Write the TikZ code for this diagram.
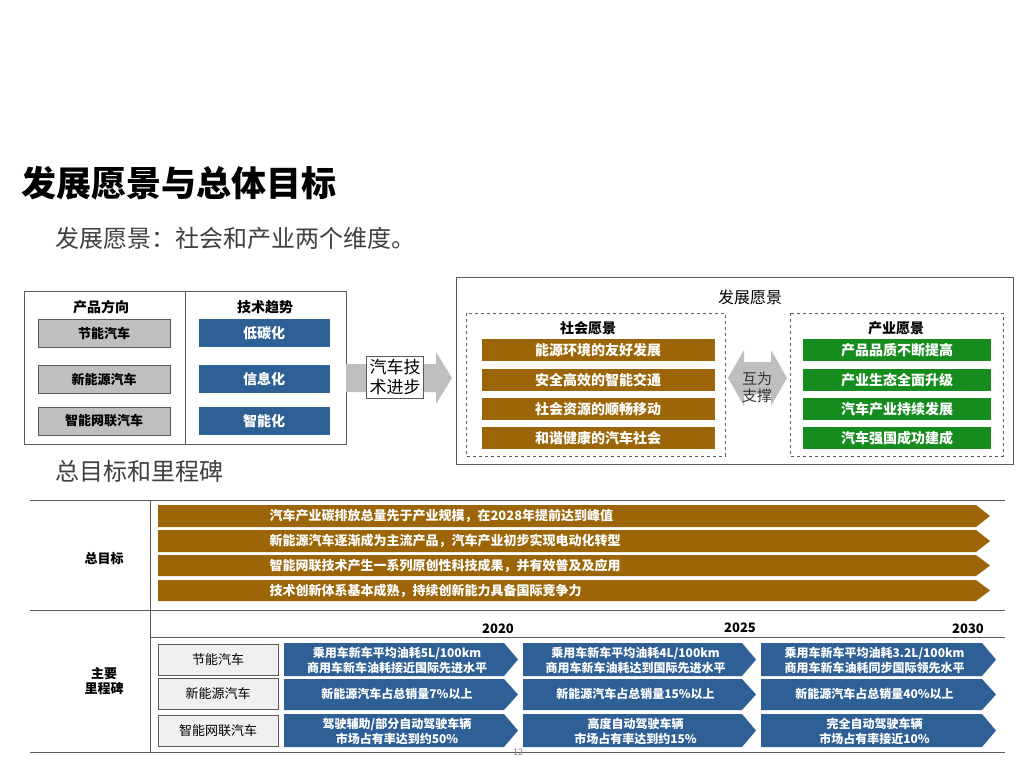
\documentclass[tikz,border=0pt]{standalone}
\usepackage{fontspec}
\setmainfont{Noto Sans CJK SC}
\usetikzlibrary{positioning}
\definecolor{ochre}{RGB}{156, 102, 8}
\definecolor{navy}{RGB}{46, 95, 149}
\definecolor{leaf}{RGB}{22, 140, 30}
\definecolor{ash}{RGB}{191, 191, 191}
\definecolor{frame}{RGB}{90, 90, 90}
% chevron: x1, y1, x2, y2, colour
\newcommand{\chev}[5]{
  \fill[#5] (#1, #2) -- ({#3-14}, #2) -- (#3, {(#2+#4)/2}) -- ({#3-14}, #4) -- (#1, #4) -- cycle;
}

\begin{document}
\begin{tikzpicture}[x=1pt, y=-1pt,
  lbl/.style={font=\fontsize{13}{15}\selectfont\bfseries},
  gbox/.style={fill=ash, draw=frame, minimum width=132, minimum height=28, font=\fontsize{13}{15}\selectfont\bfseries},
  bbox/.style={fill=navy, text=white, minimum width=131, minimum height=28, font=\fontsize{14}{16}\selectfont\bfseries},
  bar/.style={text=white, font=\fontsize{13}{15}\selectfont\bfseries},
  row/.style={fill=black!6, draw=frame, minimum width=120, minimum height=31, font=\fontsize{13}{15}\selectfont}]
  \useasboundingbox[fill=white] (0, 0) rectangle (1024, 768);

  \node[anchor=west, font=\fontsize{35}{38}\selectfont\bfseries] (title) at (18, 183) {发展愿景与总体目标};
  \node[anchor=west, text=black!75, font=\fontsize{24}{27}\selectfont] (sub) at (52, 238) {发展愿景：社会和产业两个维度。};

  % left block
  \draw[frame] (24, 291) rectangle (346, 444);
  \draw[frame] (185, 291) -- (185, 444);
  \node[lbl, font=\fontsize{14}{16}\selectfont\bfseries] (prod) at (101, 307) {产品方向};
  \node[lbl, font=\fontsize{14}{16}\selectfont\bfseries] (tech) at (265, 307) {技术趋势};
  \node[gbox] (p1) at (104, 333) {节能汽车};
  \node[gbox] (p2) at (104, 379) {新能源汽车};
  \node[gbox] (p3) at (104, 421) {智能网联汽车};
  \node[bbox] (t1) at (264, 333) {低碳化};
  \node[bbox] (t2) at (264, 379) {信息化};
  \node[bbox] (t3) at (264, 421) {智能化};

  \fill[ash] (346, 364) -- (436, 364) -- (436, 352) -- (452, 378) -- (436, 404) -- (436, 392) -- (346, 392) -- cycle;
  \node[fill=white, draw=frame, align=center, inner sep=3, font=\fontsize{17}{20}\selectfont] (progress) at (395, 377) {汽车技\\术进步};

  % vision block
  \draw[frame] (456, 277) rectangle (1013, 464);
  \node[font=\fontsize{16}{18}\selectfont] (vision) at (750, 297) {发展愿景};
  \draw[frame, dashed] (466, 313) rectangle (725, 456);
  \draw[frame, dashed] (790, 313) rectangle (1003, 456);
  \node[lbl, font=\fontsize{14}{16}\selectfont\bfseries] (soc) at (588, 328) {社会愿景};
  \node[lbl, font=\fontsize{14}{16}\selectfont\bfseries] (ind) at (896, 328) {产业愿景};
  \foreach \y/\s/\i in {350/能源环境的友好发展/产品品质不断提高, 380/安全高效的智能交通/产业生态全面升级,
                        409/社会资源的顺畅移动/汽车产业持续发展, 438/和谐健康的汽车社会/汽车强国成功建成} {
    \node[fill=ochre, bar, font=\fontsize{14}{16}\selectfont\bfseries, minimum width=233, minimum height=22] at (598, \y) {\s};
    \node[fill=leaf, bar, font=\fontsize{14}{16}\selectfont\bfseries, minimum width=188, minimum height=22] at (897, \y) {\i};
  }
  \fill[ash] (728, 378) -- (744, 350) -- (744, 362) -- (771, 362) -- (771, 350) -- (787, 378)
    -- (771, 406) -- (771, 394) -- (744, 394) -- (744, 406) -- cycle;
  \node[align=center, text=black!80, font=\fontsize{15}{17}\selectfont] (mutual) at (757, 387) {互为\\支撑};

  % goals and milestones
  \node[anchor=west, text=black!75, font=\fontsize{24}{27}\selectfont] (goals) at (52, 471) {总目标和里程碑};
  \draw[frame, thick] (30, 500) -- (1005, 500);
  \draw[frame] (30, 610) -- (1005, 610);
  \draw[frame, thick] (30, 752) -- (1005, 752);
  \draw[frame] (150, 500) -- (150, 752);
  \draw[frame] (150, 637) -- (1005, 637);
  \node[lbl] (goal) at (104, 559) {总目标};
  \node[lbl, align=center] (mile) at (104, 681) {主要\\里程碑};

  \foreach \a/\b/\t in {505/527/汽车产业碳排放总量先于产业规模，在2028年提前达到峰值,
                        530/552/新能源汽车逐渐成为主流产品，汽车产业初步实现电动化转型,
                        555/576/智能网联技术产生一系列原创性科技成果，并有效普及及应用,
                        580/601/技术创新体系基本成熟，持续创新能力具备国际竞争力} {
    \chev{158}{\a}{990}{\b}{ochre}
    \node[bar, anchor=west] at (266, {(\a+\b)/2}) {\t};
  }

  \node[lbl] (y1) at (498, 629) {2020};
  \node[lbl] (y2) at (740, 628) {2025};
  \node[lbl] (y3) at (968, 629) {2030};

  \node[row] (r1) at (218, 660) {节能汽车};
  \node[row] (r2) at (218, 694) {新能源汽车};
  \node[row] (r3) at (218, 731) {智能网联汽车};

  \foreach \xa/\xb/\ta/\tb/\tc in {
      284/518/{乘用车新车平均油耗5L/100km\\商用车新车油耗接近国际先进水平}/{新能源汽车占总销量7\%以上}/{驾驶辅助/部分自动驾驶车辆\\市场占有率达到约50\%},
      523/756/{乘用车新车平均油耗4L/100km\\商用车新车油耗达到国际先进水平}/{新能源汽车占总销量15\%以上}/{高度自动驾驶车辆\\市场占有率达到约15\%},
      761/996/{乘用车新车平均油耗3.2L/100km\\商用车新车油耗同步国际领先水平}/{新能源汽车占总销量40\%以上}/{完全自动驾驶车辆\\市场占有率接近10\%}} {
    \chev{\xa}{643}{\xb}{676}{navy}
    \chev{\xa}{679}{\xb}{710}{navy}
    \chev{\xa}{714}{\xb}{747}{navy}
    \node[bar, align=center, font=\fontsize{12}{15}\selectfont\bfseries] at ({(\xa+\xb)/2-4}, 660) {\ta};
    \node[bar, font=\fontsize{12}{15}\selectfont\bfseries] at ({(\xa+\xb)/2-4}, 694) {\tb};
    \node[bar, align=center, font=\fontsize{12}{15}\selectfont\bfseries] at ({(\xa+\xb)/2-4}, 731) {\tc};
  }
  \node[text=black!50, font=\fontsize{9}{10}\selectfont] (page) at (518, 752) {12};
\end{tikzpicture}
\end{document}
